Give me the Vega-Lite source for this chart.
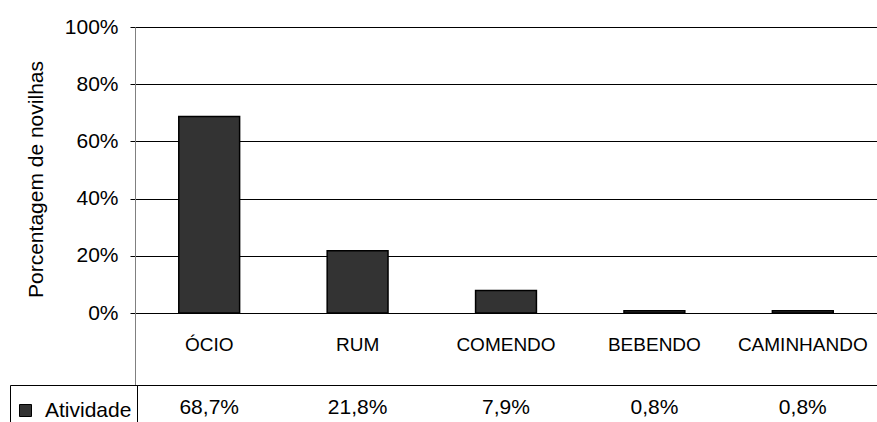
{
  "$schema": "https://vega.github.io/schema/vega-lite/v6.json",
  "autosize": {"type": "none"},
  "padding": {"left": 135, "top": 27, "right": 0, "bottom": 0},
  "width": 742,
  "height": 395,
  "background": "white",
  "config": {
    "font": "Liberation Sans",
    "view": {"stroke": null},
    "locale": {"number": {"decimal": ",", "thousands": ".", "grouping": [3], "currency": ["R$", ""]}}
  },
  "data": {
    "values": [
      {"atividade": "ÓCIO", "valor": 0.687, "serie": "Atividade"},
      {"atividade": "RUM", "valor": 0.218, "serie": "Atividade"},
      {"atividade": "COMENDO", "valor": 0.079, "serie": "Atividade"},
      {"atividade": "BEBENDO", "valor": 0.008, "serie": "Atividade"},
      {"atividade": "CAMINHANDO", "valor": 0.008, "serie": "Atividade"}
    ]
  },
  "encoding": {
    "x": {
      "field": "atividade",
      "type": "nominal",
      "sort": null,
      "scale": {"paddingInner": 0.59, "paddingOuter": 0.295},
      "axis": null
    }
  },
  "layer": [
    {
      "mark": {"type": "bar", "stroke": "black", "strokeWidth": 1.5},
      "encoding": {
        "y": {
          "field": "valor",
          "type": "quantitative",
          "scale": {"domain": [-0.381, 1], "nice": false, "zero": false},
          "axis": {
            "values": [-0.2517, 0, 0.2, 0.4, 0.6, 0.8, 1],
            "format": ".0%",
            "labelExpr": "datum.value < 0 ? '' : datum.label",
            "grid": true,
            "gridColor": "black",
            "gridWidth": 1,
            "gridOpacity": 1,
            "domainColor": "#808080",
            "domainWidth": 1,
            "tickColor": "black",
            "tickSize": 5,
            "labelPadding": 12,
            "labelFontSize": 21,
            "labelColor": "black",
            "labelFont": "Liberation Sans",
            "title": "Porcentagem de novilhas",
            "titleFontSize": 21,
            "titleFontWeight": "normal",
            "titleColor": "black",
            "titleFont": "Liberation Sans",
            "titleAngle": -90,
            "titleAlign": "center",
            "titleBaseline": "middle",
            "titleX": -99,
            "titleY": 152
          }
        },
        "color": {
          "field": "serie",
          "type": "nominal",
          "scale": {"range": ["#333333"]},
          "legend": {
            "orient": "none",
            "legendX": -125,
            "legendY": 358,
            "title": " ",
            "titleFontSize": 2,
            "titlePadding": 8,
            "strokeColor": "black",
            "fillColor": "white",
            "padding": 5,
            "symbolType": "square",
            "symbolSize": 144,
            "symbolStrokeColor": "black",
            "symbolStrokeWidth": 1,
            "symbolFillColor": "#333333",
            "symbolOpacity": 1,
            "labelFontSize": 21,
            "labelFont": "Liberation Sans",
            "labelColor": "black",
            "labelOffset": 9
          }
        }
      }
    },
    {
      "mark": {"type": "text", "fontSize": 19, "color": "black", "baseline": "middle", "align": "center"},
      "encoding": {
        "y": {"datum": -0.112, "type": "quantitative"},
        "text": {"field": "atividade", "type": "nominal"}
      }
    },
    {
      "mark": {"type": "text", "fontSize": 21, "color": "black", "baseline": "middle", "align": "center"},
      "encoding": {
        "y": {"datum": -0.332, "type": "quantitative"},
        "text": {"field": "valor", "type": "quantitative", "format": ".1%"}
      }
    }
  ]
}
